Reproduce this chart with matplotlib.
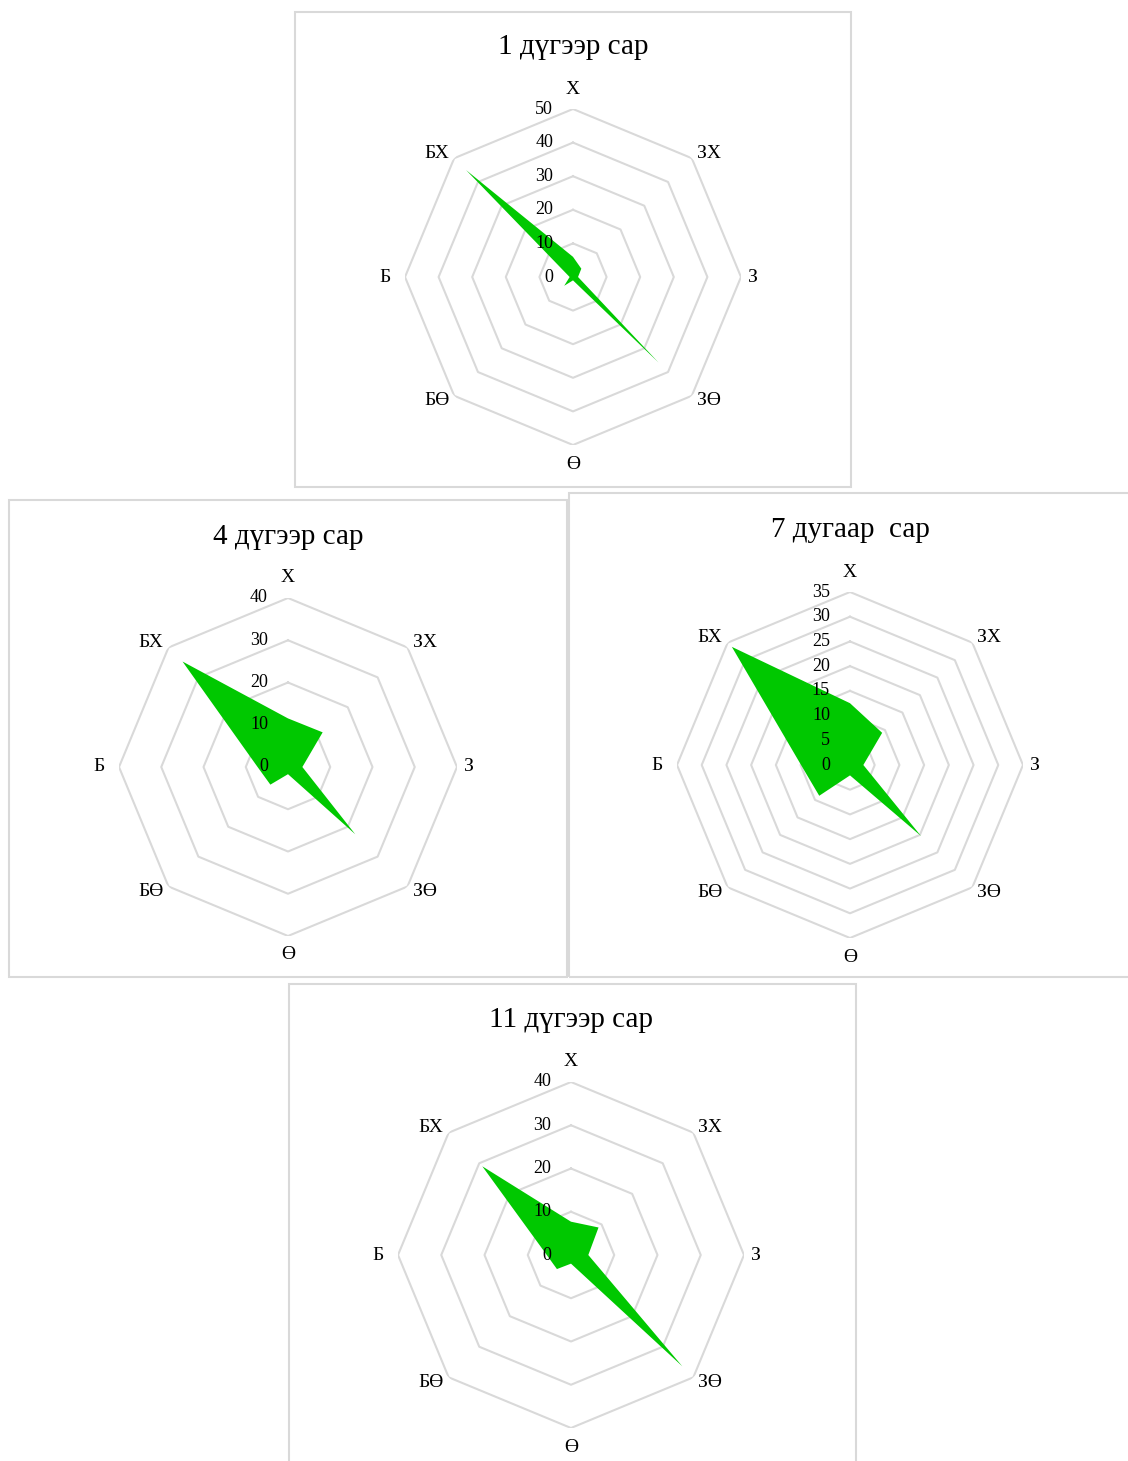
import numpy as np
import matplotlib
matplotlib.use("Agg")
import matplotlib.pyplot as plt
from matplotlib.patches import Rectangle
from matplotlib.transforms import offset_copy

plt.rcParams['font.family'] = ['Liberation Serif', 'DejaVu Serif']

# wind directions, clockwise from north
directions = ["Х", "ЗХ", "З", "ЗӨ", "Ө", "БӨ", "Б", "БХ"]

titles = ["1 дүгээр сар", "4 дүгээр сар", "7 дугаар  сар", "11 дүгээр сар"]

jan = [6, 3.5, 1.5, 36, 1, 3.7, 1, 45]
apr = [11.5, 11.6, 3.4, 22.5, 1.7, 5.9, 7.2, 35.3]
jul = [12.5, 9.2, 2.7, 20.3, 2.1, 8.8, 9.9, 33.8]
nov = [7.7, 9, 4, 36.4, 2, 4.6, 5.6, 29]

r_max = [50, 40, 35, 40]
r_step = [10, 10, 5, 10]

# layout in pixels: (box x0, y0, x1, y1), radar centre, radius
W, H = 1128, 1461
boxes = [(295, 12, 851, 487), (9, 500, 567, 977), (569, 493, 1130, 977), (289, 984, 856, 1470)]
centres = [(573, 277), (288, 767), (850, 765), (571, 1255)]
radii = [168, 169, 173, 173]
title_y = [47, 537, 530, 1020]

# label placement around the outer ring: (dx, dy, ha) in pixels
label_pos = [(0, 20, 'center'), (5, 5, 'left'), (7, 0, 'left'), (5, -5, 'left'),
             (0, -19, 'center'), (-5, -5, 'right'), (-14, 0, 'right'), (-5, 5, 'right')]

green = '#00c800'
grey = '#d9d9d9'

fig = plt.figure(figsize=(W / 100, H / 100), dpi=100)

for (x0, y0, x1, y1) in boxes:
    fig.patches.append(Rectangle((x0 / W, 1 - y1 / H), (x1 - x0) / W, (y1 - y0) / H,
                                 transform=fig.transFigure, fill=False,
                                 edgecolor=grey, linewidth=1.5))

series = [jan, apr, jul, nov]
angles = np.linspace(0, 2 * np.pi, len(directions), endpoint=False)
closed = np.append(angles, angles[0])

for i, vals in enumerate(series):
    cx, cy = centres[i]
    R = radii[i]
    ax = fig.add_axes([(cx - R) / W, 1 - (cy + R) / H, 2 * R / W, 2 * R / H],
                      projection='polar')
    ax.set_theta_zero_location('N')
    ax.set_theta_direction(-1)
    ax.set_ylim(0, r_max[i])
    ax.grid(False)
    ax.set_xticks([])
    ax.set_yticks([])
    ax.spines['polar'].set_visible(False)
    ax.patch.set_visible(False)

    levels = np.arange(r_step[i], r_max[i] + 0.01, r_step[i])
    for lv in levels:
        ax.plot(closed, [lv] * len(closed), color=grey, lw=1.5, zorder=1)

    v = np.append(vals, vals[0])
    ax.fill(closed, v, color=green, lw=0, zorder=2)

    # value labels along the north axis
    tr = offset_copy(ax.transData, fig=fig, x=-20, y=0, units='dots')
    for lv in np.arange(0, r_max[i] + 0.01, r_step[i]):
        ax.text(0, lv, f"{lv:g}", transform=tr, ha='right', va='center',
                fontsize=13, zorder=3, clip_on=False)

    for a, name, (dx, dy, ha) in zip(angles, directions, label_pos):
        t = offset_copy(ax.transData, fig=fig, x=dx, y=dy, units='dots')
        ax.text(a, r_max[i], name, transform=t, ha=ha, va='center',
                fontsize=14, clip_on=False)

    fig.text(cx / W, 1 - title_y[i] / H, titles[i], ha='center', va='center',
             fontsize=21)

fig.savefig("out.png", dpi=100, facecolor='white')
